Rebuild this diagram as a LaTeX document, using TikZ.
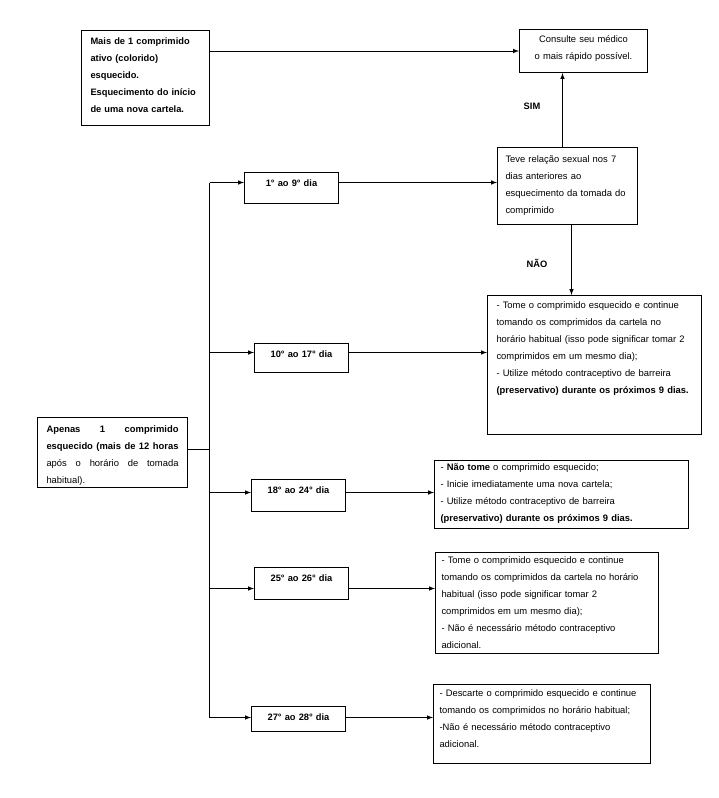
\documentclass[tikz,border=0pt]{standalone}
\usepackage{fontspec}
\setmainfont{Liberation Sans}
\begin{document}
\begin{tikzpicture}[x=1pt,y=-1pt,line width=1pt,
  caixa/.style={draw,anchor=north west,inner xsep=6pt,inner ysep=0pt,align=left,font=\fontsize{9.4}{17}\selectfont},
  dia/.style={caixa,align=center,text width=82pt,text height=14pt,font=\fontsize{9.3}{17}\selectfont\bfseries},
  rotulo/.style={font=\fontsize{9.3}{17}\selectfont\bfseries}]
\useasboundingbox (0,0) rectangle (718,798);
\node[caixa,inner xsep=9pt,text width=110pt,text height=14pt,text depth=81pt,font=\fontsize{9.3}{17}\selectfont\bfseries] (maisum) at (81,30) {Mais de 1 comprimido\\ativo (colorido)\\esquecido.\\Esquecimento do início\\de uma nova cartela.};
\node[caixa,align=center,text width=116pt,text height=12.6pt,text depth=30.4pt] (consulte) at (519,29) {Consulte seu médico\\o mais rápido possível.};
\node[caixa,inner xsep=8pt,text width=124pt,text height=14.6pt,text depth=62.4pt] (relacao) at (497,147) {Teve relação sexual nos 7\\dias anteriores ao\\esquecimento da tomada do\\comprimido};
\node[rotulo] (sim) at (532,106) {SIM};
\node[rotulo] (nao) at (537,263) {NÃO};
\node[caixa,inner xsep=8pt,text width=198pt,text height=13.3pt,text depth=125.7pt] (conduta10) at (487,295) {\hspace{1pt}- Tome o comprimido esquecido e continue\\\hspace{1pt}tomando os comprimidos da cartela no\\\hspace{1pt}horário habitual (isso pode significar tomar 2\\\hspace{1pt}comprimidos em um mesmo dia);\\\hspace{1pt}- Utilize método contraceptivo de barreira\\\hspace{1pt}\textbf{(preservativo) durante os próximos 9 dias.}};
\node[caixa,inner xsep=9pt,text width=132pt,text height=14.6pt,text depth=55.4pt] (apenas) at (37,417) {\leavevmode\hbox to 132pt{\bfseries Apenas\hfill 1\hfill comprimido}\\\leavevmode\hbox to 132pt{\bfseries esquecido\hfill (mais\hfill de\hfill 12\hfill horas}\\\leavevmode\hbox to 132pt{após\hfill o\hfill horário\hfill de\hfill tomada}\\habitual).};
\node[dia,text depth=17pt] (dia1) at (244,172) {1° ao 9° dia};
\node[dia,text height=13.9pt,text depth=15.4pt] (dia10) at (254,342.7) {10° ao 17° dia};
\node[dia,text height=14.3pt,text depth=17.7pt] (dia18) at (251,479) {18° ao 24° dia};
\node[dia,text height=13.6pt,text depth=18.4pt] (dia25) at (254,567) {25° ao 26° dia};
\node[dia,text depth=11pt] (dia27) at (251,706) {27° ao 28° dia};
\node[caixa,text width=242pt,text height=10pt,text depth=58pt] (conduta18) at (434,460) {- \textbf{Não tome} o comprimido esquecido;\\- Inicie imediatamente uma nova cartela;\\- Utilize método contraceptivo de barreira\\\textbf{(preservativo) durante os próximos 9 dias.}};
\node[caixa,text width=211pt,text height=11.3pt,text depth=89.7pt] (conduta25) at (435,552) {- Tome o comprimido esquecido e continue\\tomando os comprimidos da cartela no horário\\habitual (isso pode significar tomar 2\\comprimidos em um mesmo dia);\\- Não é necessário método contraceptivo\\adicional.};
\node[caixa,text width=205pt,text height=11.6pt,text depth=67.4pt] (conduta27) at (433,684) {- Descarte o comprimido esquecido e continue\\tomando os comprimidos no horário habitual;\\-Não é necessário método contraceptivo\\adicional.};
\coordinate (t1) at (209.5,182.5);
\coordinate (t10) at (209.5,352.5);
\coordinate (t18) at (209.5,492.5);
\coordinate (t25) at (209.5,588.5);
\coordinate (t27) at (209.5,717.5);
\draw[-latex] (maisum.east |- consulte.west) -- (consulte.west);
\draw[-latex] ([xshift=-5pt]relacao.north) -- ([xshift=-5pt]relacao.north |- consulte.south);
\draw[-latex] ([xshift=4pt]relacao.south) -- ([xshift=4pt]relacao.south |- conduta10.north);
\draw (t1) -- (t27);
\draw ([yshift=3pt]apenas.east) -- ([yshift=3pt]apenas.east -| t1);
\draw[-latex] (t1) -- (t1 -| dia1.west);
\draw[-latex] (dia1.east |- t1) -- (t1 -| relacao.west);
\draw[-latex] (t10) -- (t10 -| dia10.west);
\draw[-latex] (dia10.east |- t10) -- (t10 -| conduta10.west);
\draw[-latex] (t18) -- (t18 -| dia18.west);
\draw[-latex] (dia18.east |- t18) -- (t18 -| conduta18.west);
\draw[-latex] (t25) -- (t25 -| dia25.west);
\draw[-latex] (dia25.east |- t25) -- (t25 -| conduta25.west);
\draw[-latex] (t27) -- (t27 -| dia27.west);
\draw[-latex] (dia27.east |- t27) -- (t27 -| conduta27.west);
\end{tikzpicture}
\end{document}
